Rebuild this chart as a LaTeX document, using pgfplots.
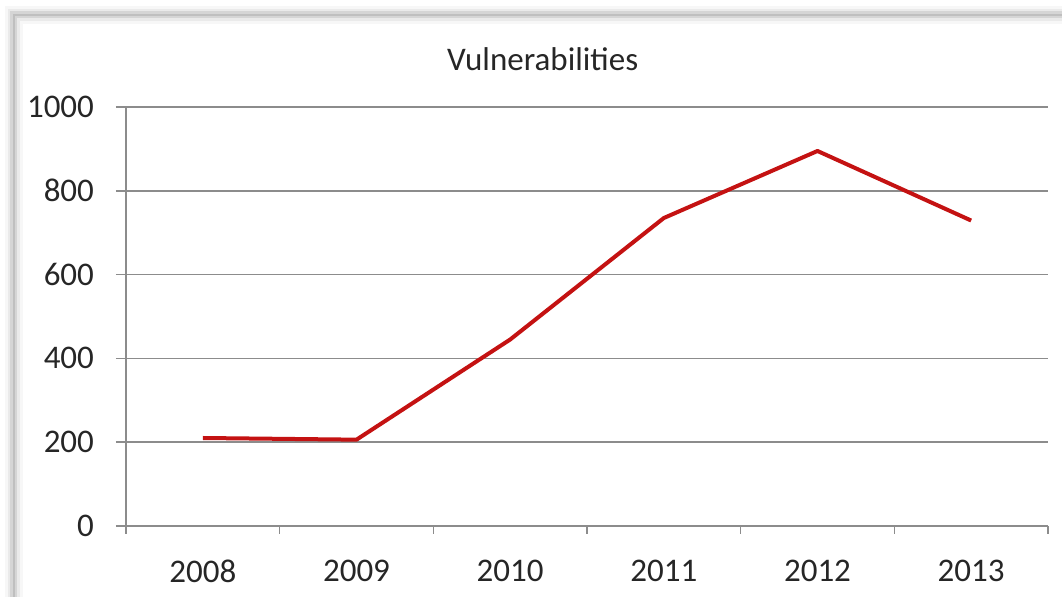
\documentclass[border=0pt]{standalone}
\usepackage{fontspec}
\setmainfont{Carlito}
\usepackage{pgfplots}
\pgfplotsset{compat=1.18}
\definecolor{linered}{RGB}{196,18,18}
\definecolor{gridgray}{RGB}{140,140,140}
\begin{document}
\begin{tikzpicture}[x=1pt,y=1pt]
\begin{axis}[
  scale only axis, width=461pt, height=209.5pt,
  xmin=-0.5, xmax=5.5, ymin=0, ymax=1000,
  axis lines*=left,
  axis line style={gridgray, line width=0.75pt},
  xtick={0,...,5},
  xticklabels={2008,2009,2010,2011,2012,2013},
  minor xtick={-0.5,0.5,...,5.5},
  ytick={0,200,...,1000},
  major x tick style={draw=none},
  tick style={gridgray, line width=0.75pt},
  tick align=outside, tick pos=left,
  major tick length=5pt, minor tick length=4pt,
  ymajorgrids,
  grid style={gridgray, line width=0.75pt},
  ticklabel style={font=\fontsize{16.5}{18}\selectfont, text=black!85},
  /pgf/number format/assume math mode=true,
  /pgf/number format/1000 sep={},
  yticklabel style={xshift=-7.5pt},
  xticklabel style={yshift=-8.5pt},
  title={Vulnerabilities},
  title style={at={(axis description cs:0.452,1)}, anchor=center, yshift=18pt, font=\fontsize{16.5}{18}\selectfont, text=black!85},
  clip=false,
]
\addplot[linered, line width=2pt, line join=round, mark=none]
  coordinates {(0,210) (1,206) (2,445) (3,735) (4,895) (5,729)};
\coordinate (SW) at (rel axis cs:0,0);
\end{axis}
\begin{scope}[shift={(SW)}]
\foreach \w/\o in {9/0.03,6/0.05,3.5/0.09}{
  \draw[black,opacity=\o,line width=\w pt] (-56,-60) -- (-56,255.5) -- (500,255.5);
}
\draw[gray!50,line width=0.8pt] (-56,-60) -- (-56,255.5) -- (500,255.5);
\pgfresetboundingbox
\path[use as bounding box] (-63,-35.5) rectangle (468,263);
\end{scope}
\end{tikzpicture}
\end{document}
